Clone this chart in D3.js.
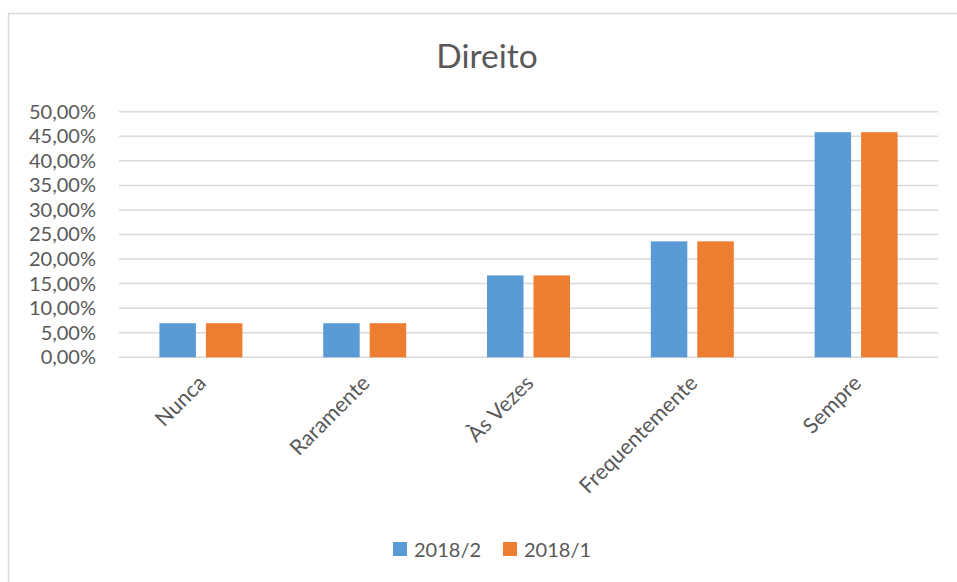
<!DOCTYPE html>
<html>
<head>
<meta charset="utf-8">
<script src="https://cdnjs.cloudflare.com/ajax/libs/d3/7.8.5/d3.min.js"></script>
<style>
  body { margin: 0; background: #fff; }
  text { font-family: Lato, "Open Sans", sans-serif; fill: #595959; }
</style>
</head>
<body>
<svg id="chart"></svg>
<script>
const categories = ['Nunca', 'Raramente', 'Às Vezes', 'Frequentemente', 'Sempre'];
const seriesNames = ['2018/2', '2018/1'];
const values2018_2 = [0.0694, 0.0694, 0.1667, 0.2361, 0.4583];
const values2018_1 = [0.0694, 0.0694, 0.1667, 0.2361, 0.4583];
const yTicks = [0, 0.05, 0.1, 0.15, 0.2, 0.25, 0.3, 0.35, 0.4, 0.45, 0.5];
const colors = ['#5B9BD5', '#ED7D31'];

const width = 957, height = 582;
const svg = d3.select('#chart').attr('width', width).attr('height', height);

// outer chart border
svg.append('rect')
    .attr('x', 8.5).attr('y', 13.5)
    .attr('width', 960).attr('height', 600)
    .attr('fill', 'none')
    .attr('stroke', '#D9D9D9')
    .attr('stroke-width', 1.5);

const plot = { left: 119, right: 938, top: 111.7, bottom: 357.3 };

const x0 = d3.scaleBand().domain(categories).range([plot.left, plot.right]);
const bw = x0.bandwidth();
const x1 = d3.scaleBand().domain(seriesNames)
    .range([bw / 2 - 41.5, bw / 2 + 41.5]).paddingInner(0.215);
const y = d3.scaleLinear().domain([0, 0.5]).range([plot.bottom, plot.top]);

const fmt = v => (v * 100).toFixed(2).replace('.', ',') + '%';

// gridlines
svg.append('g').selectAll('line')
    .data(yTicks)
    .enter().append('line')
    .attr('x1', plot.left).attr('x2', plot.right)
    .attr('y1', d => y(d)).attr('y2', d => y(d))
    .attr('stroke', '#D9D9D9')
    .attr('stroke-width', 1.5);

// y axis labels
const yAxis = d3.axisLeft(y).tickValues(yTicks).tickFormat(fmt).tickSize(0).tickPadding(0);
const yg = svg.append('g')
    .attr('transform', `translate(96,0)`)
    .call(yAxis);
yg.select('.domain').remove();
yg.selectAll('text')
    .style('font-family', 'Lato, sans-serif')
    .style('font-size', '20px')
    .attr('fill', '#595959');

// bars
const series = [values2018_2, values2018_1];
const groups = svg.append('g').selectAll('g')
    .data(categories)
    .enter().append('g')
    .attr('transform', d => `translate(${x0(d)},0)`);

groups.selectAll('rect')
    .data((d, i) => seriesNames.map((s, j) => ({ s, v: series[j][i], c: colors[j] })))
    .enter().append('rect')
    .attr('x', d => x1(d.s))
    .attr('width', x1.bandwidth())
    .attr('y', d => y(d.v))
    .attr('height', d => y(0) - y(d.v))
    .attr('fill', d => d.c);

// x labels
svg.append('g').selectAll('text')
    .data(categories)
    .enter().append('text')
    .attr('transform', d => `translate(${x0(d) + bw / 2 - 5},373) rotate(-45)`)
    .attr('text-anchor', 'end')
    .attr('dy', '0.75em')
    .style('font-size', '21.5px')
    .text(d => d);

// title
svg.append('text')
    .attr('x', 487).attr('y', 68)
    .attr('text-anchor', 'middle')
    .style('font-size', '33.5px')
    .text('Direito');

// legend
const legend = svg.append('g').selectAll('g')
    .data(seriesNames)
    .enter().append('g')
    .attr('transform', (d, i) => `translate(${393 + i * 110},542)`);
legend.append('rect')
    .attr('width', 14).attr('height', 14)
    .attr('fill', (d, i) => colors[i]);
legend.append('text')
    .attr('x', 21).attr('y', 14.5)
    .style('font-size', '20px')
    .text(d => d);
</script>
</body>
</html>
